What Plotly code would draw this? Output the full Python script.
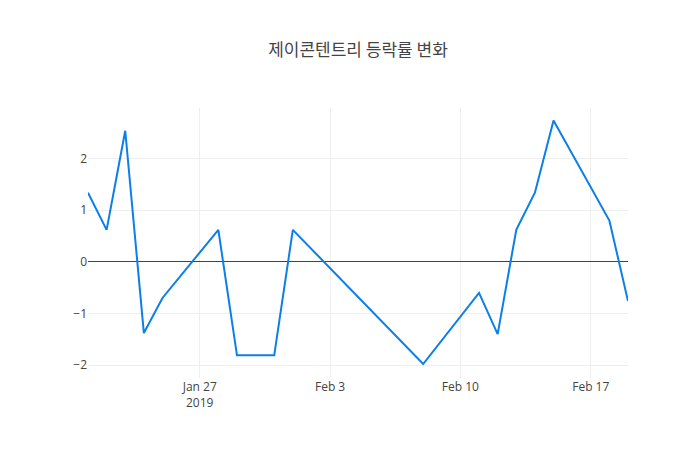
import plotly.graph_objects as go

dates = ["2019-01-21", "2019-01-22", "2019-01-23", "2019-01-24", "2019-01-25",
         "2019-01-28", "2019-01-29", "2019-01-30", "2019-01-31", "2019-02-01",
         "2019-02-08", "2019-02-11", "2019-02-12", "2019-02-13", "2019-02-14",
         "2019-02-15", "2019-02-18", "2019-02-19"]
change = [1.34, 0.62, 2.54, -1.38, -0.70,
          0.62, -1.81, -1.81, -1.81, 0.62,
          -1.98, -0.60, -1.40, 0.62, 1.34,
          2.74, 0.80, -0.76]

fig = go.Figure(go.Scatter(x=dates, y=change, mode="lines",
                           line=dict(color="#0b7fe8", width=2)))
fig.update_layout(
    template="none",
    width=700, height=450,
    margin=dict(l=80, r=80, t=100, b=80),
    title=dict(text="제이콘텐트리 등락률 변화", x=0.5, y=0.92,
               font=dict(family="Noto Sans CJK KR", size=17, color="#444")),
    font=dict(family="Open Sans", color="#444", size=12),
    xaxis=dict(showgrid=True, gridcolor="#eee", zeroline=False),
    yaxis=dict(showgrid=True, gridcolor="#eee", zeroline=True, range=[-2.25, 2.98],
               zerolinecolor="#444", zerolinewidth=1),
)
fig.write_html("out.html")
